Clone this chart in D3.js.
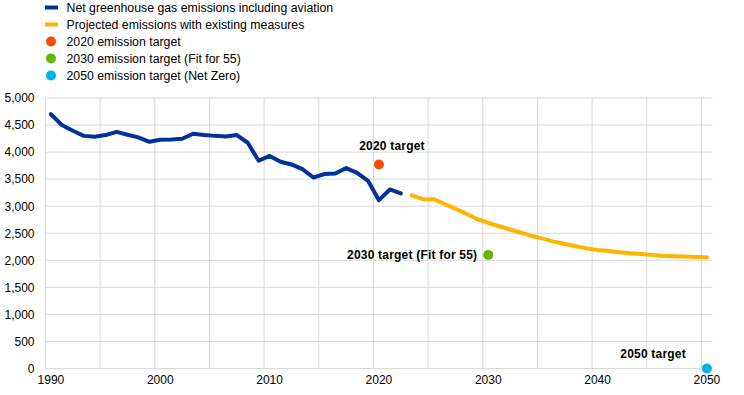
<!DOCTYPE html>
<html>
<head>
<meta charset="utf-8">
<script src="https://cdn.jsdelivr.net/npm/d3@7"></script>
<style>
  body { margin: 0; background: #fff; }
  text { font-family: Arial, "Liberation Sans", sans-serif; }
</style>
</head>
<body>
<div class="main-container"></div>
<script>
// historical net GHG emissions incl. aviation (Mt CO2 eq.)
const histYears = d3.range(1990, 2023);
const histValues = [4700, 4500, 4395, 4300, 4285, 4315, 4375, 4320, 4272, 4190,
  4228, 4235, 4247, 4340, 4315, 4300, 4290, 4315, 4173, 3840,
  3930, 3821, 3772, 3685, 3531, 3593, 3605, 3704, 3617, 3469,
  3111, 3309, 3235];

// projection with existing measures
const projYears = d3.range(2023, 2051);
const projValues = [3200, 3130, 3130, 3040, 2950, 2860, 2760, 2690, 2630, 2570,
  2510, 2450, 2400, 2345, 2300, 2260, 2220, 2190, 2170, 2150,
  2130, 2115, 2100, 2085, 2075, 2068, 2062, 2055];

const targetYears = [2020, 2030, 2050];
const targetValues = [3770, 2100, 0];
const targetLabels = ["2020 target", "2030 target (Fit for 55)", "2050 target"];
const targetColors = ["#ff4b00", "#65b800", "#00b1ea"];

const legendLabels = [
  "Net greenhouse gas emissions including aviation",
  "Projected emissions with existing measures",
  "2020 emission target",
  "2030 emission target (Fit for 55)",
  "2050 emission target (Net Zero)"
];
const legendColors = ["#003299", "#ffb400", "#ff4b00", "#65b800", "#00b1ea"];

const yTicks = d3.range(0, 5001, 500);
const xLabelYears = d3.range(1990, 2051, 10);
const xGridYears = d3.range(1990, 2051, 5);

let width = 744,
  height = 395;

const svg = d3.select(".main-container")
  .append("svg")
  .attr("width", width)
  .attr("height", height);

let x = d3.scaleLinear()
  .domain([1990, 2051])
  .range([45.5, 712.4]);

let y = d3.scaleLinear()
  .domain([0, 5000])
  .range([368.5, 98]);

// grid
svg.append("g")
  .selectAll("line")
  .data(yTicks)
  .join("line")
  .attr("x1", x(1990))
  .attr("x2", x(2051))
  .attr("y1", d => y(d))
  .attr("y2", d => y(d))
  .attr("stroke", "#d9d9d9")
  .attr("stroke-width", 1);

svg.append("g")
  .selectAll("line")
  .data(xGridYears)
  .join("line")
  .attr("x1", d => x(d))
  .attr("x2", d => x(d))
  .attr("y1", y(5000))
  .attr("y2", y(0))
  .attr("stroke", "#d9d9d9")
  .attr("stroke-width", 1);

// y axis labels
const yAxis = d3.axisLeft(y)
  .tickValues(yTicks)
  .tickFormat(d3.format(","))
  .tickSize(0)
  .tickPadding(11);

svg.append("g")
  .attr("transform", `translate(${x(1990)},0)`)
  .call(yAxis)
  .call(g => g.select(".domain").remove())
  .selectAll("text")
  .attr("font-size", 12)
  .attr("font-family", "Arial, 'Liberation Sans', sans-serif")
  .attr("fill", "#000");

// x axis labels (centred on the year's category)
const xAxis = d3.axisBottom(x)
  .tickValues(xLabelYears.map(d => d + 0.45))
  .tickFormat(d => Math.floor(d))
  .tickSize(0)
  .tickPadding(7);

svg.append("g")
  .attr("transform", `translate(0,${y(0)})`)
  .call(xAxis)
  .call(g => g.select(".domain").remove())
  .selectAll("text")
  .attr("font-size", 12)
  .attr("font-family", "Arial, 'Liberation Sans', sans-serif")
  .attr("fill", "#000");

const hist = histYears.map((d, i) => ({year: d, value: histValues[i]}));
const proj = projYears.map((d, i) => ({year: d, value: projValues[i]}));

const line = d3.line()
  .x(d => x(d.year + 0.5))
  .y(d => y(d.value));

svg.append("path")
  .datum(hist)
  .attr("fill", "none")
  .attr("stroke", "#003299")
  .attr("stroke-width", 4)
  .attr("stroke-linejoin", "round")
  .attr("stroke-linecap", "round")
  .attr("d", line);

svg.append("path")
  .datum(proj)
  .attr("fill", "none")
  .attr("stroke", "#ffb400")
  .attr("stroke-width", 4)
  .attr("stroke-linejoin", "round")
  .attr("stroke-linecap", "round")
  .attr("d", line);

// targets
const targets = targetYears.map((d, i) => ({
  year: d, value: targetValues[i], label: targetLabels[i], color: targetColors[i]
}));

svg.append("g")
  .selectAll("circle")
  .data(targets)
  .join("circle")
  .attr("cx", d => x(d.year + 0.5))
  .attr("cy", d => y(d.value))
  .attr("r", 5)
  .attr("fill", d => d.color);

// annotation offsets relative to each dot
const labelPos = [
  {dx: 13, dy: -19, anchor: "middle"},
  {dx: -11, dy: 0, anchor: "end"},
  {dx: -21, dy: -15, anchor: "end"}
];

svg.append("g")
  .selectAll("text")
  .data(targets)
  .join("text")
  .attr("x", (d, i) => x(d.year + 0.5) + labelPos[i].dx)
  .attr("y", (d, i) => y(d.value) + labelPos[i].dy)
  .attr("dy", "0.35em")
  .attr("text-anchor", (d, i) => labelPos[i].anchor)
  .attr("font-size", 12)
  .attr("font-weight", "bold")
  .attr("letter-spacing", 0.2)
  .text(d => d.label);

// legend
const legend = svg.append("g")
  .selectAll("g")
  .data(legendLabels)
  .join("g")
  .attr("transform", (d, i) => `translate(0,${7.5 + i * 17})`);

legend.each(function(d, i) {
  const g = d3.select(this);
  if (i < 2) {
    g.append("rect")
      .attr("x", 45)
      .attr("y", -2)
      .attr("width", 13)
      .attr("height", 4)
      .attr("fill", legendColors[i]);
  } else {
    g.append("circle")
      .attr("cx", 51)
      .attr("cy", 0)
      .attr("r", 5)
      .attr("fill", legendColors[i]);
  }
  g.append("text")
    .attr("x", 66.5)
    .attr("y", 0)
    .attr("dy", "0.35em")
    .attr("font-size", 12.3)
    .attr("fill", "#000")
    .text(d);
});
</script>
</body>
</html>
